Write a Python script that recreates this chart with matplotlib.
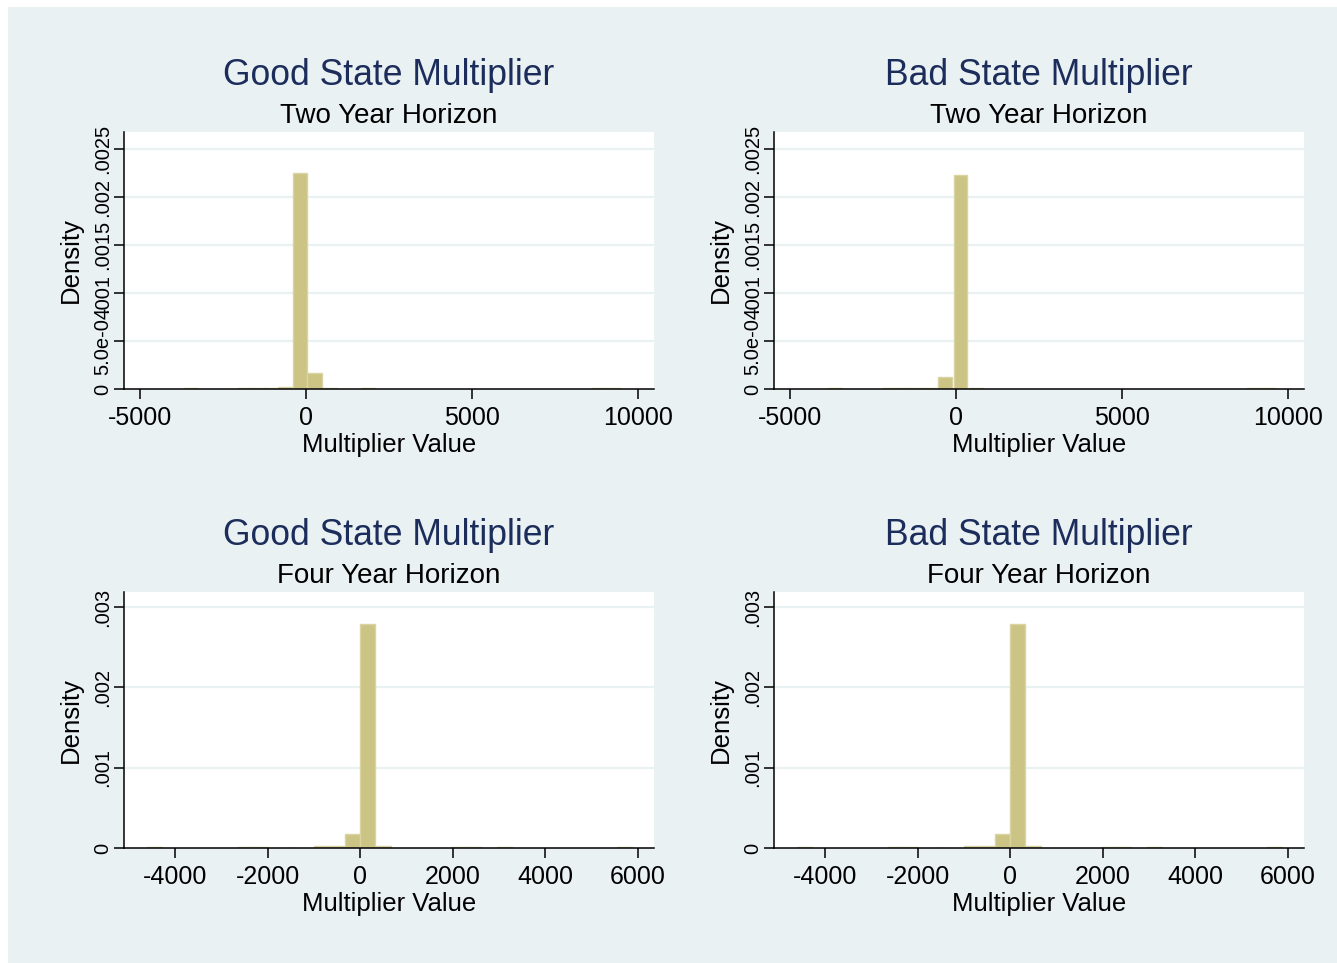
import matplotlib
matplotlib.use("Agg")
import matplotlib.pyplot as plt
from matplotlib.patches import Rectangle

plt.rcParams['font.family'] = ['Liberation Sans', 'DejaVu Sans']

# ----------------------------------------------------------
# Histogram data (bin centre, density)
# ----------------------------------------------------------
# good state, two year horizon
good2_centers = [-3467, -1850, -1440, -1040, -630, -190, 258, 700, 1860, 8820, 9250]
good2_heights = [1.2e-5, 8e-6, 8e-6, 8e-6, 2.2e-5, 0.00225, 0.000167, 1.2e-5, 1.2e-5, 1.2e-5, 1.2e-5]
good2_width = 440

# bad state, two year horizon
bad2_centers = [-3657, -1990, -1580, -1170, -750, -330, 130, 590, 8980, 9410]
bad2_heights = [1.2e-5, 6e-6, 6e-6, 6e-6, 1.5e-5, 0.000129, 0.002236, 1e-5, 1.2e-5, 1.2e-5]
bad2_width = 420

# good state, four year horizon
good4_centers = [-4440, -2480, -2150, -1490, -830, -500, -170, 160, 490, 2120, 2450, 3120, 5720]
good4_heights = [1.2e-5, 1e-5, 1e-5, 5e-6, 2.5e-5, 2.5e-5, 0.000174, 0.002793, 3e-5, 1.2e-5, 1.2e-5, 1.2e-5, 1.2e-5]
good4_width = 330

# bad state, four year horizon
bad4_centers = [-4440, -2480, -2150, -1490, -830, -500, -170, 160, 490, 2120, 2450, 3120, 5720]
bad4_heights = [1.2e-5, 1e-5, 1e-5, 5e-6, 2.5e-5, 2.5e-5, 0.000170, 0.002790, 3e-5, 1.2e-5, 1.2e-5, 1.2e-5, 1.2e-5]
bad4_width = 330

titles = ["Good State Multiplier", "Bad State Multiplier"]
subtitles = ["Two Year Horizon", "Four Year Horizon"]

two_xticks = [-5000, 0, 5000, 10000]
two_yticks = [0, 0.0005, 0.001, 0.0015, 0.002, 0.0025]
two_yticklabels = ["0", "5.0e-04", ".001", ".0015", ".002", ".0025"]
four_xticks = [-4000, -2000, 0, 2000, 4000, 6000]
four_yticks = [0, 0.001, 0.002, 0.003]
four_yticklabels = ["0", ".001", ".002", ".003"]

# colours
BG = "#EAF1F3"
GRID = "#EAF1F3"
BAR = "#CCC484"
EDGE = "#D9D4A2"
TITLE = "#1C2D5C"

W, H = 1337, 963
fig = plt.figure(figsize=(W / 100, H / 100), dpi=100, facecolor="white")
fig.patches.append(Rectangle((8 / W, 0), 1, (H - 7) / H, transform=fig.transFigure,
                             facecolor=BG, edgecolor="none", zorder=-10))


def px_axes(x0, y0, x1, y1):
    # pixel box (top-left origin) -> figure axes
    return fig.add_axes([x0 / W, 1 - y1 / H, (x1 - x0) / W, (y1 - y0) / H])


def draw_panel(ax, centers, heights, width, xlim, ylim, xticks, yticks, yticklabels):
    ax.set_facecolor("white")
    ax.bar(centers, heights, width=width, color=BAR, edgecolor=EDGE, linewidth=1.0, zorder=3)
    ax.set_xlim(*xlim)
    ax.set_ylim(*ylim)
    ax.set_xticks(xticks)
    ax.set_xticklabels([str(t) for t in xticks])
    ax.set_yticks(yticks)
    ax.set_yticklabels(yticklabels)
    for t in yticks[1:]:
        ax.axhline(t, color=GRID, lw=1.6, zorder=1)
    for s in ["top", "right"]:
        ax.spines[s].set_visible(False)
    for s in ["left", "bottom"]:
        ax.spines[s].set_linewidth(1.1)
        ax.spines[s].set_zorder(4)
    ax.tick_params(axis="x", direction="out", length=7, width=1.1, labelsize=18, pad=5.5)
    ax.tick_params(axis="y", direction="out", length=7, width=1.1, labelsize=14.5, pad=1.5,
                   labelrotation=90)
    for lab in ax.get_yticklabels():
        lab.set_va("center")
    ax.set_xlabel("Multiplier Value", fontsize=18.5, labelpad=2)
    ax.set_ylabel("Density", fontsize=18.5, labelpad=7.5)


panels = [
    (124, 132, 654, 389, good2_centers, good2_heights, good2_width, 0, 0),
    (774, 132, 1304, 389, bad2_centers, bad2_heights, bad2_width, 1, 0),
    (124, 592, 654, 848, good4_centers, good4_heights, good4_width, 0, 1),
    (774, 592, 1304, 848, bad4_centers, bad4_heights, bad4_width, 1, 1),
]

for x0, y0, x1, y1, c, h, w, col, row in panels:
    ax = px_axes(x0, y0, x1, y1)
    if row == 0:
        draw_panel(ax, c, h, w, (-5490, 10480), (0, 0.00268), two_xticks, two_yticks, two_yticklabels)
    else:
        draw_panel(ax, c, h, w, (-5106, 6350), (0, 0.00319), four_xticks, four_yticks, four_yticklabels)
    cx = (x0 + x1) / 2 / W
    fig.text(cx, 1 - (y0 - 47) / H, titles[col], fontsize=25.6, color=TITLE,
             ha="center", va="baseline")
    fig.text(cx, 1 - (y0 - 9) / H, subtitles[row], fontsize=20, color="black",
             ha="center", va="baseline")

fig.savefig("out.png", dpi=100, facecolor=fig.get_facecolor())
